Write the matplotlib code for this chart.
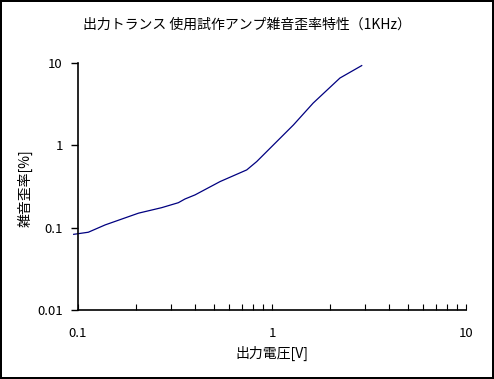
import matplotlib
matplotlib.use('Agg')
import matplotlib.pyplot as plt
from matplotlib.ticker import LogLocator, FixedLocator, NullLocator

plt.rcParams['font.family'] = ['Noto Sans CJK JP', 'DejaVu Sans']

# output voltage [V] vs noise+distortion [%]
volts = [0.095, 0.113, 0.138, 0.205, 0.270, 0.329, 0.356, 0.401, 0.540,
         0.741, 0.834, 1.29, 1.63, 2.24, 2.90]
thd = [0.083, 0.088, 0.108, 0.150, 0.175, 0.201, 0.223, 0.250, 0.363,
       0.503, 0.635, 1.77, 3.26, 6.57, 9.3]

x_ticks = [0.1, 1, 10]
x_labels = ['0.1', '1', '10']
y_ticks = [0.01, 0.1, 1, 10]
y_labels = ['0.01', '0.1', '1', '10']

W, H = 494, 379
fig = plt.figure(figsize=(W / 100, H / 100), dpi=100,
                 linewidth=1.5, edgecolor='black')
ax = fig.add_axes([78 / W, 1 - 310 / H, (466 - 78) / W, (310 - 63) / H])

ax.plot(volts, thd, color='#000080', linewidth=0.9, clip_on=False)

ax.set_xscale('log')
ax.set_yscale('log')
ax.set_xlim(0.1, 10)
ax.set_ylim(0.01, 10)

ax.xaxis.set_major_locator(FixedLocator(x_ticks))
ax.set_xticklabels(x_labels)
ax.xaxis.set_minor_locator(LogLocator(base=10, subs=range(2, 10)))
ax.xaxis.set_minor_formatter(plt.NullFormatter())
ax.yaxis.set_major_locator(FixedLocator(y_ticks))
ax.set_yticklabels(y_labels)
ax.yaxis.set_minor_locator(NullLocator())

for side in ['top', 'right']:
    ax.spines[side].set_visible(False)
for side in ['left', 'bottom']:
    ax.spines[side].set_linewidth(1.2)

ax.tick_params(axis='x', which='both', direction='in', length=4, width=0.8,
               pad=12, labelsize=9.5)
ax.tick_params(axis='y', which='major', direction='out', length=5, width=1,
               pad=6, labelsize=9.5)

ax.set_xlabel('出力電圧[V]', fontsize=10, va='center')
ax.xaxis.set_label_coords(0.5, -(353 - 310) / 247)
ax.set_ylabel('雑音歪率[%]', fontsize=10, va='center')
ax.yaxis.set_label_coords(-(78 - 25) / 388, (310 - 188) / 247)
fig.text(0.5, 1 - 25 / H, '出力トランス 使用試作アンプ雑音歪率特性（1KHz）',
         ha='center', va='center', fontsize=10)

fig.savefig('out.png', dpi=100, edgecolor=fig.get_edgecolor())
